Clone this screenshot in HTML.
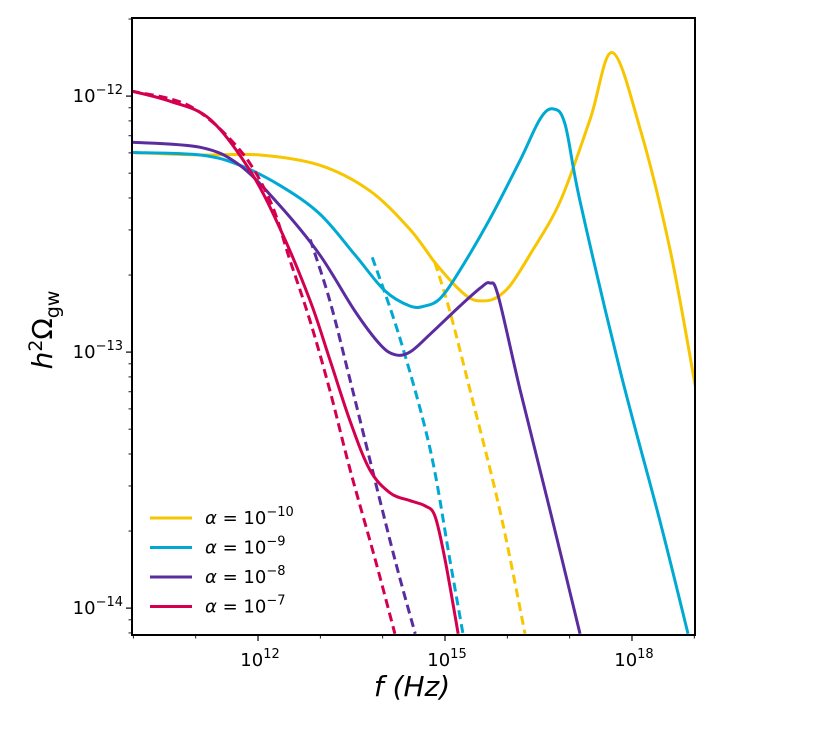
<!DOCTYPE html>
<html><head><meta charset="utf-8"><style>
body{margin:0;background:#fff;}
svg text{font-family:"DejaVu Sans","Liberation Sans",sans-serif;fill:#000;}
</style></head><body>
<svg width="830" height="732" viewBox="0 0 830 732">
<defs><clipPath id="pc"><rect x="132" y="18" width="563" height="617"/></clipPath></defs>
<g id="series" clip-path="url(#pc)"></g>
<rect x="132" y="18" width="563" height="617" fill="none" stroke="#000" stroke-width="2"/>
<g id="ticks"></g>
<text x="412" y="696" font-size="28" text-anchor="middle" font-style="italic">f (Hz)</text>
<text transform="translate(52,330) rotate(-90)" font-size="28" text-anchor="middle"><tspan font-style="italic">h</tspan><tspan dy="-10" font-size="19">2</tspan><tspan dy="10">Ω</tspan><tspan dy="7" font-size="19">gw</tspan></text>
<g id="legend"></g>
</svg>
<script>
const NS="http://www.w3.org/2000/svg";
const X0=132,X1=695,Y0=18,Y1=635;
const xMin=9.978,xMax=19.011,yTop=-11.695,yBot=-14.105;
function sx(l){return X0+(l-xMin)/(xMax-xMin)*(X1-X0);}
function sy(l){return Y0+(yTop-l)/(yTop-yBot)*(Y1-Y0);}
const seriesNames=["yellow-solid","yellow-dashed","cyan-solid","cyan-dashed","purple-solid","purple-dashed","magenta-solid","magenta-dashed"];
const seriesColors=["#f7c600","#f7c600","#00a9d4","#00a9d4","#5a2ca0","#5a2ca0","#d4004f","#d4004f"];
const seriesDash=[false,true,false,true,false,true,false,true];
const yellowF=[9.963,11.074,12.032,12.99,13.794,14.436,14.838,15.163,15.403,15.594,15.805,16.045,16.361,16.85,17.329,17.683,18.133,18.611,19.014];
const yellowO=[-12.22,-12.23,-12.23,-12.27,-12.37,-12.52,-12.65,-12.74,-12.79,-12.8,-12.79,-12.74,-12.62,-12.41,-12.09,-11.83,-12.13,-12.6,-13.13];
const yellowDF=[14.838,15.077,15.403,15.882,16.284];
const yellowDO=[-12.65,-12.84,-13.15,-13.62,-14.1];
const cyanF=[9.963,11.074,11.706,12.358,12.99,13.555,14.033,14.436,14.675,14.924,15.24,15.719,16.207,16.524,16.735,16.926,17.166,17.807,18.449,18.899];
const cyanO=[-12.22,-12.23,-12.27,-12.35,-12.46,-12.62,-12.76,-12.82,-12.82,-12.79,-12.68,-12.48,-12.25,-12.09,-12.05,-12.11,-12.41,-13.07,-13.66,-14.1];
const cyanDF=[13.833,14.282,14.762,15.077,15.288];
const cyanDO=[-12.63,-12.95,-13.38,-13.81,-14.1];
const purpleF=[9.963,11.074,11.706,12.358,12.99,13.555,13.957,14.196,14.436,14.762,15.24,15.565,15.719,15.853,16.207,16.687,17.166];
const purpleO=[-12.18,-12.2,-12.27,-12.43,-12.62,-12.84,-12.97,-13.01,-13.0,-12.93,-12.82,-12.75,-12.73,-12.78,-13.15,-13.62,-14.1];
const purpleDF=[12.837,13.153,13.478,13.794,14.196,14.522];
const purpleDO=[-12.56,-12.8,-13.11,-13.42,-13.81,-14.1];
const magentaF=[9.963,10.586,11.227,11.869,12.358,12.837,13.153,13.478,13.794,14.119,14.436,14.675,14.838,15.0,15.211];
const magentaO=[-11.98,-12.02,-12.09,-12.29,-12.52,-12.8,-13.03,-13.27,-13.46,-13.55,-13.58,-13.6,-13.64,-13.81,-14.1];
const magentaDF=[9.963,10.912,11.706,12.195,12.511,12.837,13.153,13.478,13.88,14.196];
const magentaDO=[-11.98,-12.04,-12.21,-12.41,-12.64,-12.88,-13.15,-13.46,-13.81,-14.1];
const allF=[yellowF,yellowDF,cyanF,cyanDF,purpleF,purpleDF,magentaF,magentaDF];
const allO=[yellowO,yellowDO,cyanO,cyanDO,purpleO,purpleDO,magentaO,magentaDO];
const legendLabels=["−10","−9","−8","−7"];
const yTickVals=[-12,-13,-14];
const xTickVals=[12,15,18];

function smooth(pts){
  let d="M"+pts[0][0]+","+pts[0][1];
  for(let i=0;i<pts.length-1;i++){
    const p0=pts[i-1]||pts[i],p1=pts[i],p2=pts[i+1],p3=pts[i+2]||p2;
    const c1=[p1[0]+(p2[0]-p0[0])/6,p1[1]+(p2[1]-p0[1])/6];
    const c2=[p2[0]-(p3[0]-p1[0])/6,p2[1]-(p3[1]-p1[1])/6];
    d+=" C"+c1[0]+","+c1[1]+" "+c2[0]+","+c2[1]+" "+p2[0]+","+p2[1];
  }
  return d;
}
const g=document.getElementById("series");
for(let s=0;s<allF.length;s++){
  const pts=allF[s].map((f,i)=>[sx(f),sy(allO[s][i])]);
  const p=document.createElementNS(NS,"path");
  p.setAttribute("d",smooth(pts));
  p.setAttribute("fill","none");
  p.setAttribute("stroke",seriesColors[s]);
  p.setAttribute("stroke-width","3");
  if(seriesDash[s]) p.setAttribute("stroke-dasharray","9,5");
  
  
  g.appendChild(p);
}
const t=document.getElementById("ticks");
function line(x1,y1,x2,y2,w){const l=document.createElementNS(NS,"line");l.setAttribute("x1",x1);l.setAttribute("y1",y1);l.setAttribute("x2",x2);l.setAttribute("y2",y2);l.setAttribute("stroke","#000");l.setAttribute("stroke-width",w);t.appendChild(l);return l;}
for(let d=-15;d<=-11;d++){for(let m=1;m<10;m++){const v=d+Math.log10(m);if(v<yBot||v>yTop)continue;const y=sy(v);const l=line(X0,y,X0-(m===1?6:3.5),y,m===1?1.2:0.9);}}
for(let d=10;d<=19;d++){const x=sx(d);const major=xTickVals.includes(d);const l=line(x,Y1,x,Y1+(major?6:3.5),major?1.2:0.9);}
function expLabel(x,y,exp,anchor,name){
  const tx=document.createElementNS(NS,"text");
  tx.setAttribute("x",x);tx.setAttribute("y",y);tx.setAttribute("font-size","18");tx.setAttribute("text-anchor",anchor);
  tx.innerHTML='10<tspan dy="-8" font-size="13">'+exp+'</tspan>';
  
  
  t.appendChild(tx);
}
yTickVals.forEach(v=>expLabel(X0-9,sy(v)+6,"−"+(-v),"end","y-tick-label"));
xTickVals.forEach(v=>expLabel(sx(v)+2,Y1+31,String(v),"middle","x-tick-label"));
const lg=document.getElementById("legend");
const legColors=["#f7c600","#00a9d4","#5a2ca0","#d4004f"];
legendLabels.forEach((lab,i)=>{
  const y=518+i*29.5;
  const gg=document.createElementNS(NS,"g");
  
  
  const l=document.createElementNS(NS,"line");
  l.setAttribute("x1",150);l.setAttribute("x2",192);l.setAttribute("y1",y);l.setAttribute("y2",y);
  l.setAttribute("stroke",legColors[i]);l.setAttribute("stroke-width","3");
  gg.appendChild(l);
  const tx=document.createElementNS(NS,"text");
  tx.setAttribute("x",205);tx.setAttribute("y",y+6);tx.setAttribute("font-size","18");
  tx.innerHTML='<tspan font-style="italic">α</tspan> = 10<tspan dy="-8" font-size="13">'+lab+'</tspan>';
  gg.appendChild(tx);
  lg.appendChild(gg);
});
</script>
</body></html>
